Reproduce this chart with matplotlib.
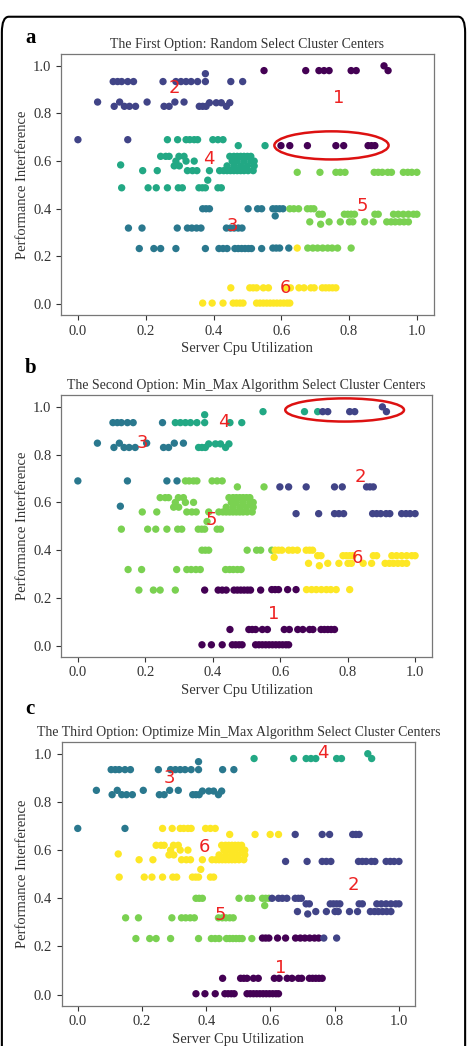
import matplotlib
matplotlib.use("Agg")
import matplotlib.pyplot as plt
import numpy as np
from matplotlib.patches import Ellipse, FancyBboxPatch

plt.rcParams["font.family"] = ["Liberation Serif", "DejaVu Serif"]

# point rows: one y value per group, the x values along it
grp_y = [0.98, 0.98, 1.0, 0.934, 0.934, 0.967,
         0.848, 0.83, 0.83, 0.845,
         0.69, 0.69, 0.69, 0.665, 0.665, 0.665, 0.584,
         0.62, 0.60, 0.58, 0.56, 0.52, 0.488,
         0.553,
         0.40, 0.40, 0.40, 0.37, 0.40, 0.377, 0.345, 0.335,
         0.319, 0.233, 0.233, 0.235, 0.235, 0.235, 0.235,
         0.068, 0.004]
grp_x = [
    [0.549, 0.672, 0.711],
    [0.726, 0.741, 0.806, 0.821, 0.915],
    [0.903],
    [0.104, 0.117, 0.129, 0.147, 0.164, 0.251],
    [0.289, 0.304, 0.319, 0.334, 0.353, 0.376, 0.451, 0.486],
    [0.376],
    [0.058, 0.123, 0.204, 0.286, 0.313],
    [0.107, 0.137, 0.152, 0.17, 0.254, 0.269],
    [0.358, 0.368, 0.378, 0.438],
    [0.388, 0.408, 0.423, 0.448],
    [0.0, 0.147],
    [0.264, 0.294],
    [0.319, 0.33, 0.343, 0.353, 0.398, 0.413, 0.428],
    [0.473, 0.552],
    [0.599, 0.625],
    [0.677, 0.761, 0.784, 0.856, 0.866, 0.876],
    [0.126],
    [0.244, 0.259, 0.269, 0.298, 0.313, 0.448, 0.46, 0.47, 0.48, 0.49, 0.5, 0.51],
    [0.289, 0.319, 0.343, 0.455, 0.47, 0.49, 0.51, 0.52],
    [0.284, 0.299, 0.44, 0.46, 0.48, 0.5, 0.52],
    [0.191, 0.234, 0.323, 0.338, 0.351, 0.388, 0.418, 0.43, 0.44, 0.45, 0.46,
     0.47, 0.48, 0.49, 0.502, 0.517],
    [0.383],
    [0.129, 0.207, 0.231, 0.264, 0.296, 0.308, 0.357, 0.367, 0.376, 0.413, 0.423],
    [0.647, 0.714, 0.761, 0.774, 0.788, 0.874, 0.886, 0.898, 0.914, 0.925,
     0.96, 0.973, 0.985, 1.0],
    [0.368, 0.378, 0.388, 0.502, 0.53, 0.542, 0.575],
    [0.585, 0.595],
    [0.605],
    [0.582],
    [0.625, 0.637, 0.651, 0.677, 0.687, 0.696],
    [0.711, 0.721, 0.786, 0.796, 0.806, 0.816, 0.876, 0.886, 0.931, 0.945,
     0.96, 0.975, 0.99, 1.0],
    [0.684, 0.741, 0.774, 0.801, 0.811, 0.846, 0.871, 0.911, 0.924, 0.936,
     0.949, 0.962, 0.975],
    [0.716],
    [0.149, 0.189, 0.293, 0.323, 0.336, 0.35, 0.363, 0.438, 0.45, 0.461, 0.473, 0.484],
    [0.181, 0.224, 0.244, 0.289],
    [0.376, 0.416, 0.428, 0.44, 0.463, 0.473, 0.483, 0.493, 0.503, 0.512, 0.542],
    [0.575, 0.585, 0.595, 0.622],
    [0.647],
    [0.678, 0.693, 0.707, 0.722, 0.737, 0.75],
    [0.766, 0.806],
    [0.451, 0.507, 0.517, 0.527, 0.547, 0.562, 0.612, 0.627, 0.652, 0.667,
     0.687, 0.697, 0.721, 0.731, 0.741, 0.751, 0.761],
    [0.368, 0.396, 0.428, 0.458, 0.468, 0.478, 0.487, 0.527, 0.537, 0.547,
     0.557, 0.567, 0.577, 0.587, 0.597, 0.607, 0.617, 0.625],
]

# cluster of each group in the three options
lab_a = [1, 1, 1, 2, 2, 2, 2, 2, 2, 2, 2, 4, 4, 4, 1, 1, 4, 4, 4, 4, 4, 4, 4,
         5, 3, 3, 3, 3, 5, 5, 5, 5, 3, 3, 3, 3, 6, 5, 5, 6, 6]
lab_b = [4, 2, 2, 3, 4, 4, 3, 3, 4, 4, 3, 3, 5, 5, 2, 2, 3, 5, 5, 5, 5, 5, 5,
         2, 5, 6, 6, 6, 6, 6, 6, 6, 5, 5, 1, 1, 1, 6, 6, 1, 1]
lab_c = [4, 4, 4, 3, 3, 3, 3, 3, 3, 3, 3, 6, 6, 6, 6, 2, 6, 6, 6, 6, 6, 6, 6,
         2, 5, 5, 2, 5, 2, 2, 2, 2, 5, 5, 5, 1, 1, 1, 2, 1, 1]

titles = ["The First Option: Random Select Cluster Centers",
          "The Second Option: Min_Max Algorithm Select Cluster Centers",
          "The Third Option: Optimize Min_Max Algorithm Select Cluster Centers"]
letters = ["a", "b", "c"]

# red cluster numbers (data coords)
num_pos = [
    {1: (0.77, 0.866), 2: (0.284, 0.906), 3: (0.455, 0.327), 4: (0.386, 0.61),
     5: (0.839, 0.413), 6: (0.612, 0.068)},
    {1: (0.58, 0.131), 2: (0.839, 0.707), 3: (0.192, 0.848), 4: (0.432, 0.936),
     5: (0.395, 0.527), 6: (0.83, 0.367)},
    {1: (0.632, 0.11), 2: (0.857, 0.457), 3: (0.286, 0.899), 4: (0.764, 1.002),
     5: (0.443, 0.33), 6: (0.395, 0.613)},
]
ellipses = [((0.748, 0.666), 0.337, 0.118), ((0.791, 0.987), 0.352, 0.097), None]

lens = [len(g) for g in grp_x]
xs = np.concatenate([np.array(g) for g in grp_x])
ys = np.repeat(grp_y, lens)

fig = plt.figure(figsize=(4.67, 10.46), dpi=100)
boxes = [[0.1306, 0.6989, 0.7984, 0.2495],
         [0.1306, 0.3722, 0.7944, 0.2502],
         [0.1321, 0.0385, 0.7566, 0.2524]]
letter_y = [0.964, 0.648, 0.322]

txt = "#333333"
for i, labs in enumerate([lab_a, lab_b, lab_c]):
    ax = fig.add_axes(boxes[i])
    cl = np.repeat(labs, lens)
    ax.scatter(xs, ys, c=cl, cmap="viridis", vmin=1, vmax=6, s=28, linewidths=0)
    ax.set_title(titles[i], fontsize=10, color=txt, pad=4)
    ax.set_xlabel("Server Cpu Utilization", fontsize=10.5, color=txt, labelpad=3)
    ax.set_ylabel("Performance Interference", fontsize=10.5, color=txt, labelpad=3)
    ax.set_xticks([0.0, 0.2, 0.4, 0.6, 0.8, 1.0])
    ax.set_yticks([0.0, 0.2, 0.4, 0.6, 0.8, 1.0])
    ax.tick_params(labelsize=10.5, colors=txt, length=3.5, width=0.8)
    for sp in ax.spines.values():
        sp.set_color("#777777")
        sp.set_linewidth(0.9)
    for k, (px, py) in num_pos[i].items():
        ax.text(px, py, str(k), color="#ee2222", fontsize=13,
                family="DejaVu Sans", ha="center", va="center")
    if ellipses[i] is not None:
        c, w, h = ellipses[i]
        ax.add_patch(Ellipse(c, w, h, fill=False, edgecolor="#dd1111", linewidth=1.8))
    fig.text(0.065, letter_y[i], letters[i], fontsize=15, fontweight="bold",
             ha="center", va="center", color="black")

fig.patches.append(FancyBboxPatch((0.004, -0.05), 0.992, 1.034,
                                  boxstyle="round,pad=0,rounding_size=0.015",
                                  transform=fig.transFigure, fill=False,
                                  edgecolor="black", linewidth=1.5))

fig.savefig("out.png", dpi=100)
